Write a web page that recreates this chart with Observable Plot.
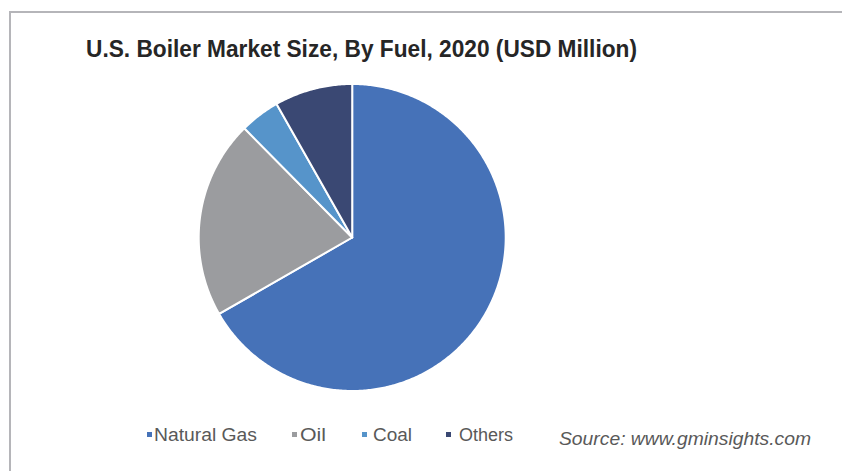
<!DOCTYPE html>
<html>
<head>
<meta charset="utf-8">
<script src="https://cdn.jsdelivr.net/npm/d3@7"></script>
<script src="https://cdn.jsdelivr.net/npm/@observablehq/plot@0.6"></script>
<style>
  html, body { margin: 0; padding: 0; background: #fff; }
  #wrap { position: relative; width: 842px; height: 471px; overflow: hidden; background: #fff; }
  #frame { position: absolute; left: 9px; top: 11px; width: 840px; height: 470px; border-left: 2px solid #b5b5b9; border-top: 2px solid #b5b5b9; box-sizing: border-box; }
  .txt { position: absolute; line-height: 1; white-space: nowrap; transform-origin: 0 0; font-family: "Liberation Sans", Arial, sans-serif; }
  #title { left: 86px; top: 37.5px; font-weight: bold; font-size: 23px; color: #262626; }
  #chart { position: absolute; left: 0; top: 77px; }
  .leg { top: 426.5px; font-size: 17.5px; color: #595959; }
  .sw { position: absolute; width: 5px; height: 5px; top: 432px; }
  #source { left: 559px; top: 430px; font-style: italic; font-size: 18px; color: #595959; }
</style>
</head>
<body>
<div id="wrap">
  <div id="frame"></div>
  <div id="title" class="txt">U.S. Boiler Market Size, By Fuel, 2020 (USD Million)</div>
  <div id="chart"></div>
  <div id="legend"></div>
  <div id="source" class="txt">Source: www.gminsights.com</div>
</div>
<script>
// Data (share of market, %)
const fuels = ["Natural Gas", "Oil", "Coal", "Others"];
const shares = [66.7, 20.9, 4.2, 8.2];
const colors = ["#4672b8", "#9b9c9f", "#5694ca", "#3a4873"];

// Legend layout (swatch x, text start x, text end x)
const legendSwatchX = [147, 292, 362, 446];
const legendTextX = [154, 300, 373, 459];
const legendTextEnd = [257, 326, 412, 513];

// Build wedge polygons from d3.pie angles (clockwise from 12 o'clock)
const pie = d3.pie().sort(null).value(d => d.share);
const arcs = pie(fuels.map((f, i) => ({fuel: f, share: shares[i]})));
const pts = [];
arcs.forEach(a => {
  const f = a.data.fuel;
  pts.push({fuel: f, x: 0, y: 0});
  const n = Math.max(2, Math.ceil((a.endAngle - a.startAngle) / 0.01));
  for (let k = 0; k <= n; k++) {
    const t = a.startAngle + (a.endAngle - a.startAngle) * k / n;
    pts.push({fuel: f, x: Math.sin(t), y: Math.cos(t)});
  }
  pts.push({fuel: f, x: 0, y: 0});
});

const cx = 351.7, cy = 160, r = 153.5;
const chart = Plot.plot({
  width: 842,
  height: 320,
  margin: 0,
  x: {domain: [-1, 1], range: [cx - r, cx + r], axis: null},
  y: {domain: [-1, 1], range: [cy + r, cy - r], axis: null},
  color: {domain: fuels, range: colors},
  marks: [
    Plot.line(pts, {x: "x", y: "y", z: "fuel", fill: "fuel", stroke: "#ffffff", strokeWidth: 2, strokeLinejoin: "round", curve: "linear"})
  ]
});
document.getElementById("chart").appendChild(chart);

function fit(el, width) {
  const w = el.getBoundingClientRect().width;
  if (w > 0) el.style.transform = `scaleX(${width / w})`;
}

const legend = document.getElementById("legend");
fuels.forEach((f, i) => {
  const s = document.createElement("div");
  s.className = "sw";
  s.style.left = legendSwatchX[i] + "px";
  s.style.background = colors[i];
  legend.appendChild(s);
  const t = document.createElement("div");
  t.className = "txt leg";
  t.style.left = legendTextX[i] + "px";
  t.textContent = f;
  legend.appendChild(t);
  fit(t, legendTextEnd[i] - legendTextX[i]);
});
fit(document.getElementById("title"), 551);
fit(document.getElementById("source"), 252);
</script>
</body>
</html>
